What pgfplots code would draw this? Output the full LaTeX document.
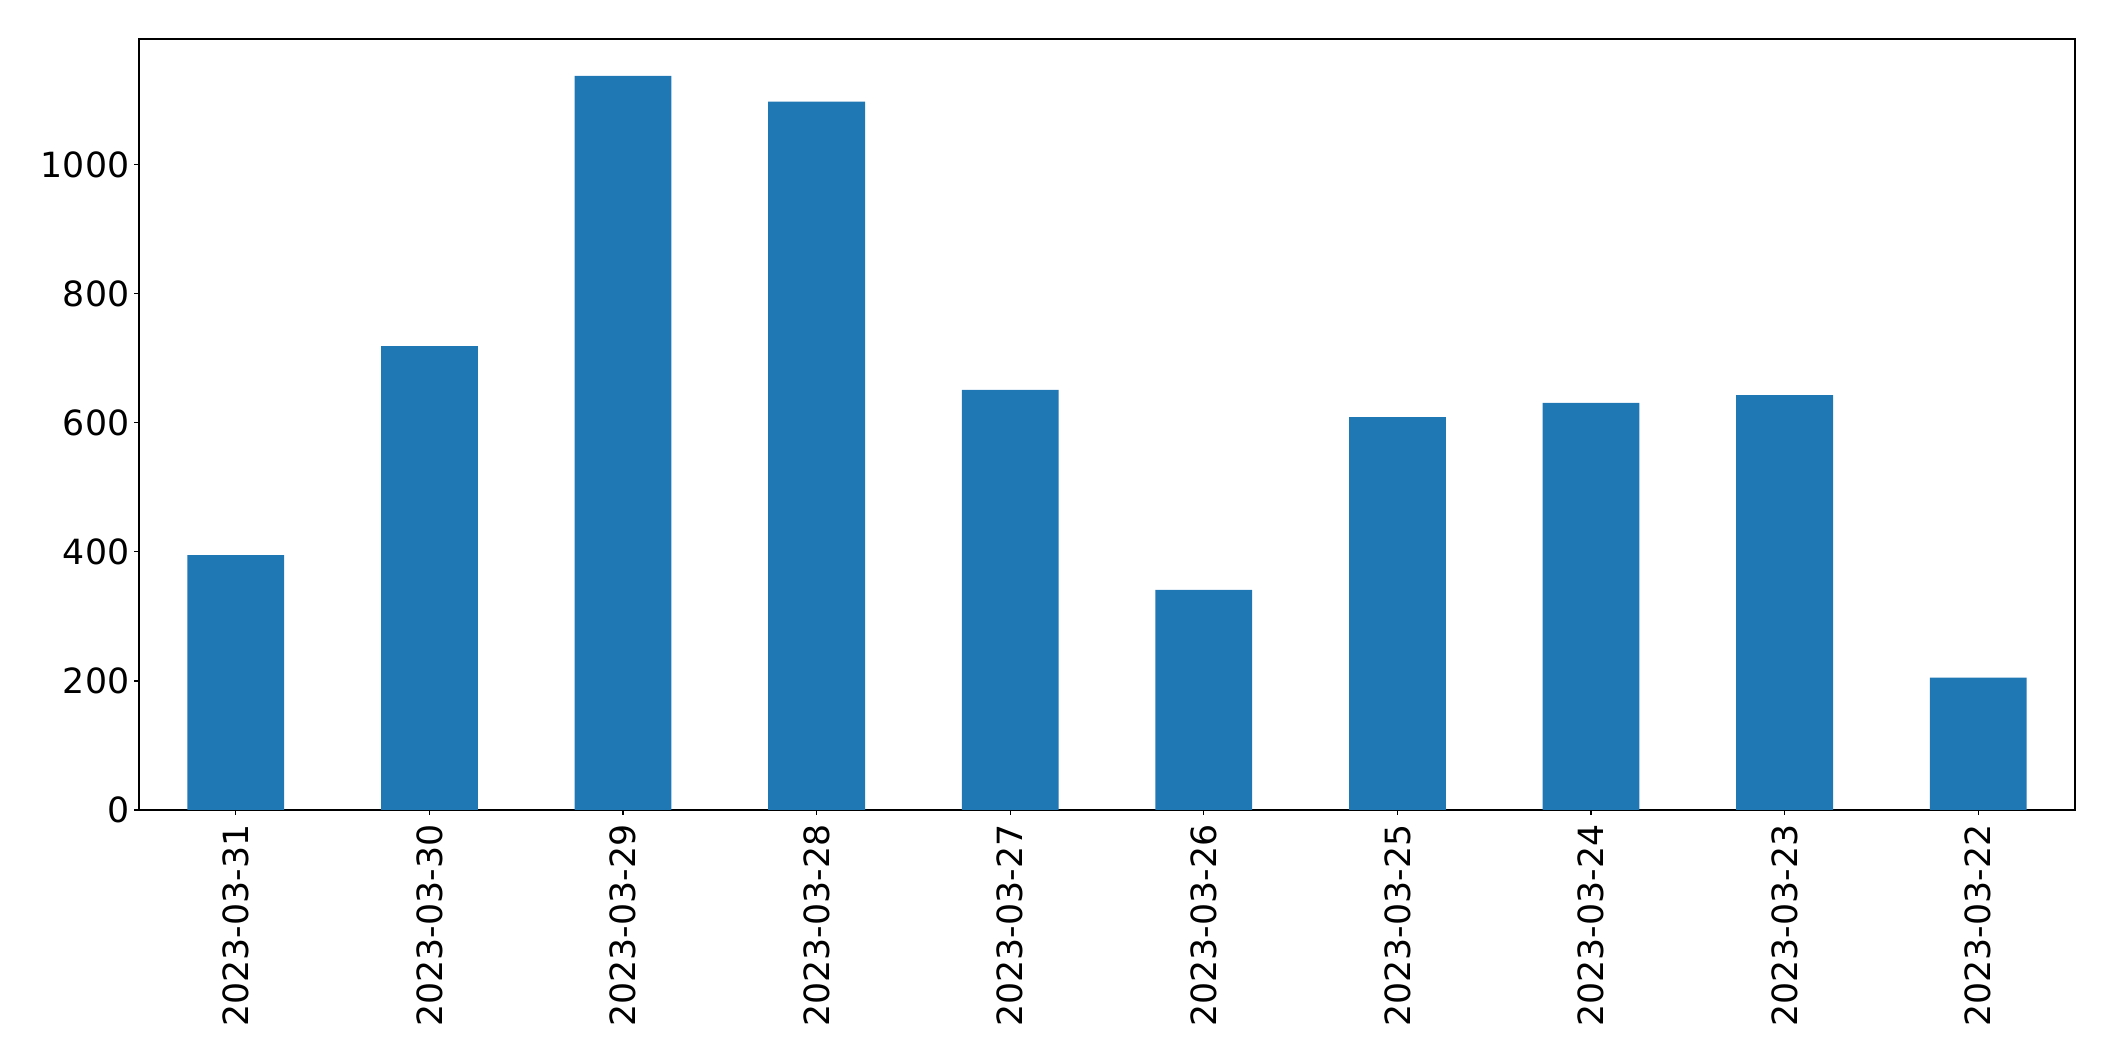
\documentclass[border=0pt]{standalone}
\usepackage{fontspec}
\setmainfont{DejaVu Sans}
\usepackage{pgfplots}
\pgfplotsset{compat=1.18}
\definecolor{c0}{HTML}{1F77B4}
\begin{document}
\begin{tikzpicture}
\begin{axis}[
  scale only axis, width=1393.9pt, height=555.1pt,
  xmin=-0.5, xmax=9.5, ymin=0, ymax=1195,
  xtick={0,1,2,3,4,5,6,7,8,9},
  xticklabels={2023-03-31,2023-03-30,2023-03-29,2023-03-28,2023-03-27,2023-03-26,2023-03-25,2023-03-24,2023-03-23,2023-03-22},
  ytick={0,200,400,600,800,1000},
  tick align=outside, xtick pos=bottom, ytick pos=left,
  major tick length=3.5pt,
  tick style={black, line width=0.8pt},
  axis line style={line width=0.8pt},
  font=\fontsize{25}{29}\selectfont,
  /pgf/number format/assume math mode=true,
  /pgf/number format/1000 sep={},
  xticklabel shift=3.5pt,
  xticklabel style={rotate=90, anchor=east},
  yticklabel style={anchor=east},
  ybar, bar width=0.5,
]
\addplot[fill=c0, draw=none] coordinates {(0,395) (1,719) (2,1138) (3,1098) (4,651) (5,341) (6,609) (7,631) (8,643) (9,205)};
\coordinate (bl) at (rel axis cs:0,0);
\coordinate (tr) at (rel axis cs:1,1);
\end{axis}
\path ([xshift=-100.08pt,yshift=-180.72pt]bl) rectangle ([xshift=28.8pt,yshift=28.08pt]tr);
\end{tikzpicture}
\end{document}
